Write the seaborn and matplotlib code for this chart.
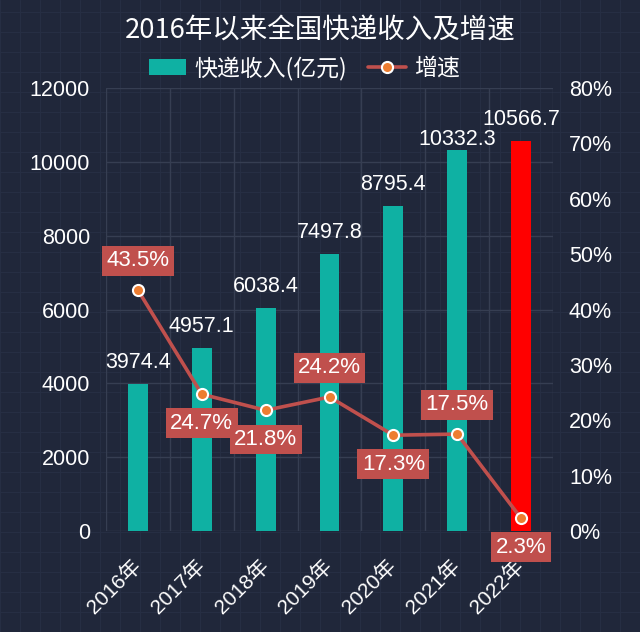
import numpy as np
import pandas as pd
import matplotlib
matplotlib.use("Agg")
import matplotlib.pyplot as plt
from matplotlib.lines import Line2D
from matplotlib.patches import Patch
import seaborn as sns

# ---- data ----
years = ["2016年", "2017年", "2018年", "2019年", "2020年", "2021年", "2022年"]
revenue = [3974.4, 4957.1, 6038.4, 7497.8, 8795.4, 10332.3, 10566.7]
growth = [43.5, 24.7, 21.8, 24.2, 17.3, 17.5, 2.3]
growth_label_above = [True, False, False, True, False, True, False]
left_ticks = [0, 2000, 4000, 6000, 8000, 10000, 12000]
right_ticks = [0, 10, 20, 30, 40, 50, 60, 70, 80]

title = "2016年以来全国快递收入及增速"
bar_name = "快递收入(亿元)"
line_name = "增速"

# ---- style ----
BG = "#20273a"
GRID = "#363e52"
TEAL = "#0fb1a3"
HIGHLIGHT = "#ff0000"
LINE = "#c0504d"
MARK = "#ed7d31"
TXT = "#ffffff"
FAM = ["Liberation Sans", "Noto Sans CJK SC", "DejaVu Sans"]
# vertical offsets (points) of value labels above bars (2021 nudged down to avoid overlap)
bar_label_offsets = [8, 8, 8, 8, 8, 0, 8]

sns.set_theme(style="dark")
plt.rcParams["font.family"] = FAM

fig = plt.figure(figsize=(6.4, 6.32), dpi=100)
fig.patch.set_facecolor(BG)

# subtle background pattern
bg = fig.add_axes([0, 0, 1, 1], zorder=-5)
bg.set_facecolor(BG)
bg.set_xlim(0, 640)
bg.set_ylim(0, 632)
for v in np.arange(0, 640, 20):
    bg.axvline(v, color="#262e43", lw=0.8, zorder=0)
for h in np.arange(0, 632, 20):
    bg.axhline(h, color="#262e43", lw=0.8, zorder=0)
bg.set_axis_off()

ax = fig.add_axes([106 / 640, 1 - 531 / 632, 447 / 640, 443 / 632])
ax.set_facecolor((0, 0, 0, 0))

df = pd.DataFrame({"year": years, "revenue": revenue})
palette = [TEAL] * (len(years) - 1) + [HIGHLIGHT]
sns.barplot(data=df, x="year", y="revenue", hue="year", palette=palette,
            legend=False, width=0.31, ax=ax, saturation=1, zorder=3,
            linewidth=0, edgecolor="none")

ax.set_xlim(-0.5, len(years) - 0.5)
ax.set_ylim(0, 12000)
ax.set_yticks(left_ticks)
ax.set_yticklabels([str(t) for t in left_ticks])
ax.set_xlabel("")
ax.set_ylabel("")
ax.tick_params(axis="y", length=0, pad=11.5, labelsize=15.5, labelcolor=TXT)
ax.tick_params(axis="x", length=0, pad=23, labelsize=15, labelcolor=TXT)
for lab in ax.get_xticklabels():
    lab.set_rotation(45)
    lab.set_ha("right")
    lab.set_va("center")
    lab.set_rotation_mode("anchor")
    lab.set_family(FAM)

# grid
for t in left_ticks:
    ax.axhline(t, color=GRID, lw=1, zorder=1)
for b in np.arange(-0.5, len(years), 1.0):
    ax.axvline(b, color=GRID, lw=1, zorder=1)
for s in ax.spines.values():
    s.set_visible(False)

# bar labels
for i, (v, off) in enumerate(zip(revenue, bar_label_offsets)):
    ax.annotate(f"{v:.1f}", xy=(i, v), xytext=(0, off), textcoords="offset points",
                ha="center", va="bottom", color=TXT, fontsize=15.5, zorder=6,
                annotation_clip=False)

# growth line on right axis
ax2 = ax.twinx()
ax2.set_ylim(0, 80)
sns.lineplot(x=np.arange(len(years)), y=growth, ax=ax2, color=LINE, lw=2.6,
             marker="o", markersize=8, markerfacecolor=MARK,
             markeredgecolor="white", markeredgewidth=1.5, zorder=5)
ax2.set_yticks(right_ticks)
ax2.set_yticklabels([f"{t}%" for t in right_ticks])
ax2.tick_params(axis="y", length=0, pad=11.5, labelsize=15.5, labelcolor=TXT)
ax2.grid(False)
ax2.set_ylabel("")
for s in ax2.spines.values():
    s.set_visible(False)

for i, (g, up) in enumerate(zip(growth, growth_label_above)):
    ax2.annotate(f"{g}%", xy=(i, g), xytext=(0, 21 if up else -21),
                 textcoords="offset points", ha="center", va="center",
                 color=TXT, fontsize=16, zorder=7, annotation_clip=False,
                 bbox=dict(boxstyle="square,pad=0.2", fc=LINE, ec="none"))

# title & legend
fig.text(0.5, 1 - 30 / 632, title, ha="center", va="center", color=TXT,
         fontsize=19.8, family=["Noto Sans CJK SC", "DejaVu Sans"])
handles = [
    Patch(facecolor=TEAL, edgecolor="none"),
    Line2D([0], [0], color=LINE, lw=2.6, marker="o", markersize=8,
           markerfacecolor=MARK, markeredgecolor="white", markeredgewidth=1.5),
]
leg = fig.legend(handles, [bar_name, line_name], loc="center",
                 bbox_to_anchor=(0.475, 1 - 68 / 632), ncol=2, frameon=False,
                 fontsize=16.5, handlelength=1.65, handleheight=0.65,
                 columnspacing=0.9, handletextpad=0.35)
for t in leg.get_texts():
    t.set_color(TXT)
    t.set_family(["Noto Sans CJK SC", "DejaVu Sans"])

fig.savefig("out.png", dpi=100, facecolor=BG)
